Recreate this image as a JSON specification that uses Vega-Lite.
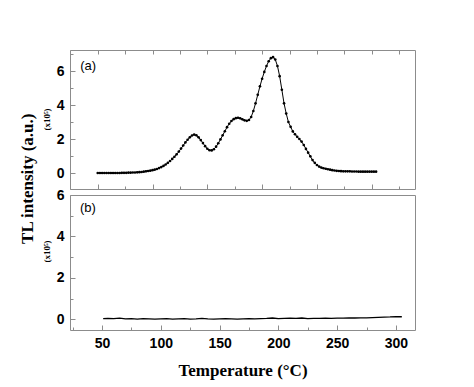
{
  "$schema": "https://vega.github.io/schema/vega-lite/v6.json",
  "background": "white",
  "padding": {"left": 18, "top": 49, "right": 5, "bottom": 5},
  "title": {"text": "TL intensity (a.u.)", "orient": "left", "anchor": "middle", "font": "Liberation Serif", "fontSize": 17, "fontWeight": "bold", "color": "black", "offset": 5, "dx": 35},
  "datasets": {
    "a": [
      {"t":50,"v":0.00},{"t":52,"v":0.00},{"t":54,"v":0.00},{"t":56,"v":0.00},{"t":58,"v":0.00},{"t":60,"v":0.00},{"t":62,"v":0.00},{"t":64,"v":0.00},{"t":66,"v":0.00},{"t":68,"v":0.00},
      {"t":70,"v":0.00},{"t":72,"v":0.01},{"t":74,"v":0.01},{"t":76,"v":0.01},{"t":78,"v":0.02},{"t":80,"v":0.02},{"t":82,"v":0.03},{"t":84,"v":0.03},{"t":86,"v":0.04},{"t":88,"v":0.05},
      {"t":90,"v":0.06},{"t":92,"v":0.08},{"t":94,"v":0.10},{"t":96,"v":0.12},{"t":98,"v":0.14},{"t":100,"v":0.17},{"t":102,"v":0.20},{"t":104,"v":0.24},{"t":106,"v":0.29},{"t":108,"v":0.35},
      {"t":110,"v":0.42},{"t":112,"v":0.50},{"t":114,"v":0.60},{"t":116,"v":0.71},{"t":118,"v":0.83},{"t":120,"v":0.96},{"t":122,"v":1.10},{"t":124,"v":1.26},{"t":126,"v":1.44},{"t":128,"v":1.62},
      {"t":130,"v":1.80},{"t":132,"v":1.96},{"t":134,"v":2.10},{"t":136,"v":2.21},{"t":138,"v":2.26},{"t":140,"v":2.22},{"t":142,"v":2.10},{"t":144,"v":1.94},{"t":146,"v":1.76},{"t":148,"v":1.58},
      {"t":150,"v":1.43},{"t":152,"v":1.34},{"t":154,"v":1.33},{"t":156,"v":1.40},{"t":158,"v":1.55},{"t":160,"v":1.75},{"t":162,"v":1.98},{"t":164,"v":2.22},{"t":166,"v":2.46},{"t":168,"v":2.70},
      {"t":170,"v":2.90},{"t":172,"v":3.06},{"t":174,"v":3.17},{"t":176,"v":3.23},{"t":178,"v":3.25},{"t":180,"v":3.22},{"t":182,"v":3.16},{"t":184,"v":3.10},{"t":186,"v":3.07},{"t":188,"v":3.12},
      {"t":190,"v":3.30},{"t":192,"v":3.65},{"t":194,"v":4.10},{"t":196,"v":4.60},{"t":198,"v":5.10},{"t":200,"v":5.55},{"t":202,"v":5.95},{"t":204,"v":6.30},{"t":206,"v":6.58},{"t":208,"v":6.76},
      {"t":210,"v":6.82},{"t":212,"v":6.68},{"t":214,"v":6.30},{"t":216,"v":5.70},{"t":218,"v":4.90},{"t":220,"v":4.10},{"t":222,"v":3.50},{"t":224,"v":3.00},{"t":226,"v":2.72},{"t":228,"v":2.45},
      {"t":230,"v":2.28},{"t":232,"v":2.13},{"t":234,"v":2.00},{"t":236,"v":1.85},{"t":238,"v":1.65},{"t":240,"v":1.42},{"t":242,"v":1.20},{"t":244,"v":0.98},{"t":246,"v":0.76},{"t":248,"v":0.60},
      {"t":250,"v":0.47},{"t":252,"v":0.38},{"t":254,"v":0.32},{"t":256,"v":0.28},{"t":258,"v":0.25},{"t":260,"v":0.22},{"t":262,"v":0.20},{"t":264,"v":0.17},{"t":266,"v":0.15},{"t":268,"v":0.13},
      {"t":270,"v":0.12},{"t":272,"v":0.11},{"t":274,"v":0.10},{"t":276,"v":0.10},{"t":278,"v":0.10},{"t":280,"v":0.10},{"t":282,"v":0.09},{"t":284,"v":0.09},{"t":286,"v":0.09},{"t":288,"v":0.08},
      {"t":290,"v":0.08},{"t":292,"v":0.08},{"t":294,"v":0.08},{"t":296,"v":0.08},{"t":298,"v":0.08},{"t":300,"v":0.08},{"t":302,"v":0.08},{"t":304,"v":0.08}
    ],
    "b": [
      {"t":51,"v":0.03},{"t":55,"v":0.04},{"t":60,"v":0.03},{"t":65,"v":0.05},{"t":70,"v":0.02},{"t":75,"v":0.03},{"t":80,"v":0.01},{"t":85,"v":0.03},{"t":90,"v":0.02},{"t":95,"v":0.01},
      {"t":100,"v":0.02},{"t":105,"v":0.03},{"t":110,"v":0.01},{"t":115,"v":0.02},{"t":120,"v":0.03},{"t":125,"v":0.01},{"t":130,"v":0.02},{"t":135,"v":0.04},{"t":140,"v":0.02},{"t":145,"v":0.01},
      {"t":150,"v":0.02},{"t":155,"v":0.03},{"t":160,"v":0.02},{"t":165,"v":0.01},{"t":170,"v":0.02},{"t":175,"v":0.03},{"t":180,"v":0.02},{"t":185,"v":0.03},{"t":190,"v":0.04},{"t":195,"v":0.06},
      {"t":200,"v":0.03},{"t":205,"v":0.04},{"t":210,"v":0.05},{"t":215,"v":0.04},{"t":220,"v":0.06},{"t":225,"v":0.03},{"t":230,"v":0.04},{"t":235,"v":0.04},{"t":240,"v":0.05},{"t":245,"v":0.04},
      {"t":250,"v":0.05},{"t":255,"v":0.05},{"t":260,"v":0.06},{"t":265,"v":0.06},{"t":270,"v":0.07},{"t":275,"v":0.07},{"t":280,"v":0.08},{"t":285,"v":0.09},{"t":290,"v":0.10},{"t":295,"v":0.11},
      {"t":300,"v":0.13},{"t":305,"v":0.12}
    ],
    "la": [{"t":34,"v":6.3,"s":"(a)"}],
    "lb": [{"t":31.3,"v":5.38,"s":"(b)"}]
  },
  "config": {
    "view": {"stroke": "#8c8c8c", "strokeWidth": 1},
    "axis": {"domain": false, "grid": false, "tickColor": "#8c8c8c", "labelFont": "Liberation Sans", "labelFontWeight": "bold", "labelFontSize": 14, "labelColor": "black", "titleColor": "black"}
  },
  "spacing": -3,
  "vconcat": [
    {
      "width": 345, "height": 139,
      "layer": [
        {
          "data": {"name": "a"},
          "mark": {"type": "line", "color": "black", "strokeWidth": 1},
          "encoding": {
            "x": {"field": "t", "type": "quantitative", "scale": {"domain": [24.7, 339.5], "nice": false, "zero": false},
                  "axis": {"orient": "bottom", "values": [50,100,150,200,250,300], "tickSize": -5, "labels": false, "title": null}},
            "y": {"field": "v", "type": "quantitative", "scale": {"domain": [-0.94, 7.24], "nice": false, "zero": false},
                  "axis": {"orient": "left", "values": [0,2,4,6], "tickSize": -5, "labelPadding": 11, "title": null}}
          }
        },
        {
          "data": {"name": "a"},
          "mark": {"type": "point", "filled": true, "size": 7, "color": "black", "opacity": 1},
          "encoding": {
            "x": {"field": "t", "type": "quantitative",
                  "axis": {"orient": "bottom", "values": [25,75,125,175,225,275,325], "tickSize": -3, "labels": false, "title": null}},
            "y": {"field": "v", "type": "quantitative",
                  "axis": {"orient": "left", "values": [1,3,5,7], "tickSize": -3, "labels": false, "title": "(x10⁵)", "titleFont": "Liberation Serif", "titleFontSize": 9, "titleFontWeight": "bold", "titleAngle": 270, "titleX": -24, "titleY": 69, "titleAlign": "center", "titleBaseline": "middle"}}
          }
        },
        {
          "data": {"name": "la"},
          "mark": {"type": "text", "align": "left", "baseline": "middle", "font": "Liberation Sans", "fontSize": 13, "color": "black"},
          "encoding": {
            "x": {"field": "t", "type": "quantitative",
                  "axis": {"orient": "top", "values": [25,50,75,100,125,150,175,200,225,250,275,300,325], "tickSize": -4, "labels": false, "title": null}},
            "y": {"field": "v", "type": "quantitative", "axis": null},
            "text": {"field": "s"}
          }
        }
      ],
      "resolve": {"axis": {"x": "independent", "y": "independent"}}
    },
    {
      "width": 345, "height": 135,
      "layer": [
        {
          "data": {"name": "b"},
          "mark": {"type": "line", "color": "black", "strokeWidth": 1.3},
          "encoding": {
            "x": {"field": "t", "type": "quantitative", "scale": {"domain": [22.8, 316.2], "nice": false, "zero": false},
                  "axis": {"orient": "bottom", "values": [50,100,150,200,250,300], "tickSize": -5, "labelPadding": 11, "title": "Temperature (°C)", "titleFont": "Liberation Serif", "titleFontSize": 17, "titleFontWeight": "bold", "titlePadding": 12}},
            "y": {"field": "v", "type": "quantitative", "scale": {"domain": [-0.52, 6.0], "nice": false, "zero": false},
                  "axis": {"orient": "left", "values": [0,2,4,6], "tickSize": -5, "labelPadding": 11, "title": null}}
          }
        },
        {
          "data": {"name": "lb"},
          "mark": {"type": "text", "align": "left", "baseline": "middle", "font": "Liberation Sans", "fontSize": 13, "color": "black"},
          "encoding": {
            "x": {"field": "t", "type": "quantitative",
                  "axis": {"orient": "bottom", "values": [25,75,125,175,225,275], "tickSize": -3, "labels": false, "title": null}},
            "y": {"field": "v", "type": "quantitative",
                  "axis": {"orient": "left", "values": [1,3,5], "tickSize": -3, "labels": false, "title": "(x10⁵)", "titleFont": "Liberation Serif", "titleFontSize": 9, "titleFontWeight": "bold", "titleAngle": 270, "titleX": -24, "titleY": 56, "titleAlign": "center", "titleBaseline": "middle"}},
            "text": {"field": "s"}
          }
        }
      ],
      "resolve": {"axis": {"x": "independent", "y": "independent"}}
    }
  ]
}
